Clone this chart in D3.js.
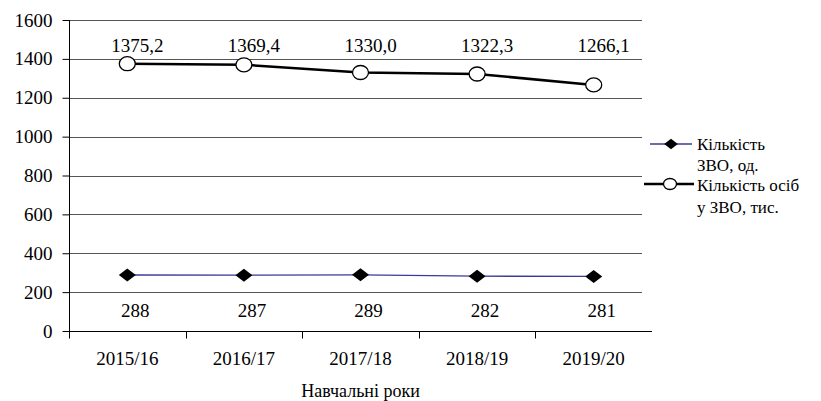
<!DOCTYPE html>
<html>
<head>
<meta charset="utf-8">
<script src="https://cdn.jsdelivr.net/npm/d3@7"></script>
<style>
  body { margin: 0; background: #fff; }
</style>
</head>
<body>
<svg id="chart" width="821" height="401"></svg>
<script>
// data
let years = ["2015/16", "2016/17", "2017/18", "2018/19", "2019/20"];
let institutions = [288, 287, 289, 282, 281];          // Кількість ЗВО, од.
let students = [1375.2, 1369.4, 1330.0, 1322.3, 1266.1]; // Кількість осіб у ЗВО, тис.
let yTicks = [0, 200, 400, 600, 800, 1000, 1200, 1400, 1600];

let serif = "'Liberation Serif', 'Times New Roman', 'DejaVu Serif', serif";

let svg = d3.select("svg#chart");
let margin = {left: 69, right: 169, top: 20, bottom: 70};
let width = 821 - margin.left - margin.right;
let height = 401 - margin.top - margin.bottom;

let g = svg.append("g").attr("transform", `translate(${margin.left},${margin.top})`);

let x = d3.scaleBand().domain(years).range([0, width]);
let y = d3.scaleLinear().domain([0, 1600]).range([height, 0]);
let cx = d => x(d) + x.bandwidth() / 2;

function txt(sel, size) {
    return sel.style("font-family", serif).style("font-size", size + "px").attr("fill", "#000");
}

// gridlines
g.append("g")
    .selectAll("line")
    .data(yTicks.slice(1))
    .enter().append("line")
    .attr("x1", 0).attr("x2", width - 10)
    .attr("y1", d => Math.round(y(d)) + 0.5).attr("y2", d => Math.round(y(d)) + 0.5)
    .attr("stroke", "#555");

// y axis
let yAxis = g.append("g")
    .attr("transform", "translate(0.5,0)")
    .call(d3.axisLeft(y).tickValues(yTicks).tickSize(7).tickPadding(10).tickFormat(d3.format("d")));
yAxis.select(".domain").attr("stroke", "#000").attr("d", `M0,${height}V0`);
yAxis.selectAll(".tick line").attr("stroke", "#000");
txt(yAxis.selectAll("text"), 19);

// x axis
let xAxis = g.append("g")
    .attr("transform", `translate(0,${Math.round(height) + 0.5})`)
    .call(d3.axisBottom(x).tickSize(0).tickPadding(20));
xAxis.select(".domain").attr("stroke", "#000").attr("d", `M0,0H${width}`);
txt(xAxis.selectAll("text"), 19);
// ticks between categories
xAxis.append("g")
    .selectAll("line")
    .data(years)
    .enter().append("line")
    .attr("x1", d => Math.round(x(d)) + 0.5).attr("x2", d => Math.round(x(d)) + 0.5)
    .attr("y1", 0).attr("y2", 7)
    .attr("stroke", "#000");

txt(svg.append("text"), 18)
    .attr("x", margin.left + width / 2).attr("y", 397)
    .attr("text-anchor", "middle")
    .text("Навчальні роки");

let line = d3.line().x((d, i) => cx(years[i])).y(d => y(d));

// students series
g.append("path")
    .datum(students)
    .attr("fill", "none")
    .attr("stroke", "#000")
    .attr("stroke-width", 2.5)
    .attr("d", line);
g.append("g")
    .selectAll("ellipse")
    .data(students)
    .enter().append("ellipse")
    .attr("cx", (d, i) => cx(years[i])).attr("cy", d => y(d))
    .attr("rx", 8).attr("ry", 7)
    .attr("fill", "#fff").attr("stroke", "#000").attr("stroke-width", 1.3);
let topLabelY = y(d3.max(students)) - 12;
txt(g.append("g")
    .selectAll("text")
    .data(students)
    .enter().append("text"), 19)
    .attr("x", (d, i) => cx(years[i]) + 10)
    .attr("y", topLabelY)
    .attr("text-anchor", "middle")
    .text(d => d3.format(".1f")(d).replace(".", ","));

// institutions series
g.append("path")
    .datum(institutions)
    .attr("fill", "none")
    .attr("stroke", "#3a3a9a")
    .attr("stroke-width", 1.3)
    .attr("d", line);
let diamond = "M0,-6.5L8.5,0L0,6.5L-8.5,0Z";
g.append("g")
    .selectAll("path")
    .data(institutions)
    .enter().append("path")
    .attr("transform", (d, i) => `translate(${cx(years[i])},${y(d)})`)
    .attr("d", diamond)
    .attr("fill", "#000");
txt(g.append("g")
    .selectAll("text")
    .data(institutions)
    .enter().append("text"), 19)
    .attr("x", (d, i) => cx(years[i]) + 8)
    .attr("y", y(d3.min(institutions)) + 41)
    .attr("text-anchor", "middle")
    .text(d => d);

// legend
let legend = svg.append("g");
let lg1 = legend.append("g").attr("transform", "translate(650,144)");
lg1.append("line").attr("x1", 0).attr("x2", 42).attr("stroke", "#3a3a9a").attr("stroke-width", 1.3);
lg1.append("path").attr("d", diamond).attr("transform", "translate(21,0) scale(0.8)").attr("fill", "#000");
txt(lg1.append("text"), 17).attr("x", 47).attr("y", 6).text("Кількість");
txt(lg1.append("text"), 17).attr("x", 47).attr("y", 27).text("ЗВО, од.");

let lg2 = legend.append("g").attr("transform", "translate(650,184)");
lg2.append("line").attr("x1", -6).attr("x2", 44).attr("stroke", "#000").attr("stroke-width", 2.5);
lg2.append("ellipse").attr("cx", 20).attr("cy", 0).attr("rx", 6.5).attr("ry", 5.5)
    .attr("fill", "#fff").attr("stroke", "#000").attr("stroke-width", 1.3);
txt(lg2.append("text"), 17).attr("x", 47).attr("y", 7).text("Кількість осіб");
txt(lg2.append("text"), 17).attr("x", 47).attr("y", 29).text("у ЗВО, тис.");
</script>
</body>
</html>
